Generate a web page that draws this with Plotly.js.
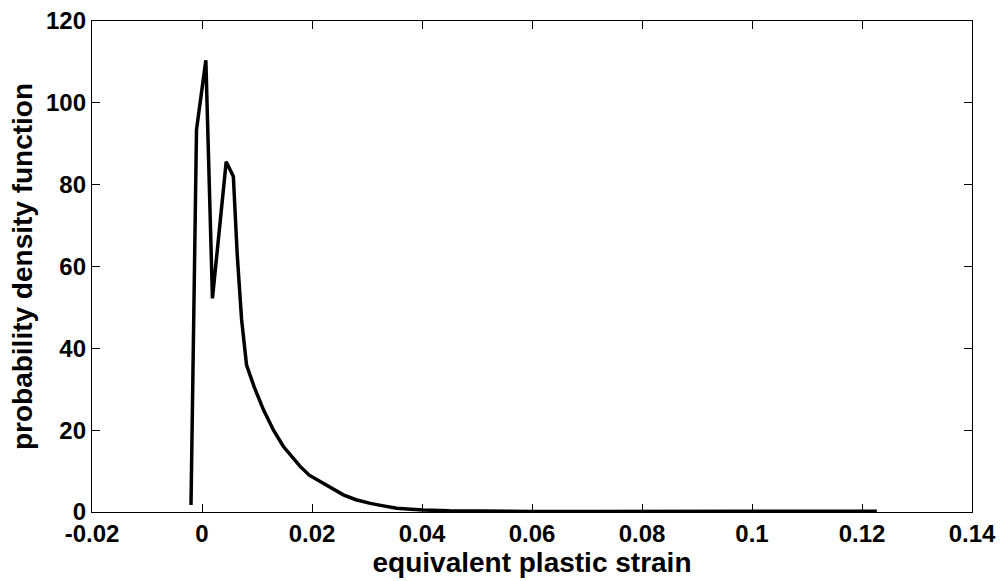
<!DOCTYPE html>
<html>
<head>
<meta charset="utf-8">
<script src="https://cdn.plot.ly/plotly-3.0.1.min.js"></script>
<style>html,body{margin:0;padding:0;background:#fff;}#chart{width:1006px;height:581px;}</style>
</head>
<body>
<div id="chart"></div>
<script>
var strain = [-0.0020, -0.0010, 0.0007, 0.0019, 0.0044, 0.0057, 0.0064, 0.0072, 0.0081, 0.0095, 0.0112, 0.0130, 0.0148, 0.0165, 0.0178, 0.0195, 0.0215, 0.0235, 0.0257, 0.0280, 0.0306, 0.0330, 0.0354, 0.0380, 0.0402, 0.0450, 0.0500, 0.0600, 0.0700, 0.0800, 0.0900, 0.1000, 0.1050, 0.1100, 0.1150, 0.1200, 0.1227];
var pdf    = [1.7, 93.4, 110.4, 52.2, 85.6, 82.0, 63.0, 47.0, 35.9, 30.5, 24.9, 20.0, 16.0, 13.2, 11.2, 9.0, 7.4, 5.8, 4.2, 3.0, 2.1, 1.5, 0.9, 0.7, 0.5, 0.3, 0.2, 0.15, 0.12, 0.1, 0.1, 0.1, 0.05, 0.05, 0.2, 0.2, 0.2];
var xTickVals = [-0.02, 0, 0.02, 0.04, 0.06, 0.08, 0.1, 0.12, 0.14];
var xTickText = ['-0.02', '0', '0.02', '0.04', '0.06', '0.08', '0.1', '0.12', '0.14'];
var yTickVals = [0, 20, 40, 60, 80, 100, 120];
var yTickText = ['0', '20', '40', '60', '80', '100', '120'];

var fam = 'Arial, "Liberation Sans", sans-serif';
var tickFnt = {family: fam, size: 24, color: '#000'};
var trace = {x: strain, y: pdf, type: 'scatter', mode: 'lines', line: {color: '#000', width: 3.5}, hoverinfo: 'skip'};
var axisCommon = {showgrid: false, zeroline: false, showline: true, linecolor: '#000', linewidth: 1.2, mirror: 'ticks', ticks: 'inside', ticklen: 8, tickcolor: '#000', tickwidth: 1, tickfont: tickFnt, tickmode: 'array'};
var layout = {
  width: 1006, height: 581,
  margin: {l: 92, r: 34, t: 21, b: 69},
  paper_bgcolor: '#fff', plot_bgcolor: '#fff',
  showlegend: false,
  xaxis: Object.assign({}, axisCommon, {range: [-0.02, 0.14], tickvals: xTickVals, ticktext: xTickText, title: {text: '<b>equivalent plastic strain</b>', font: {family: fam, size: 28, color: '#000'}, standoff: 0}}),
  yaxis: Object.assign({}, axisCommon, {range: [0, 120], tickvals: yTickVals, ticktext: yTickText, title: {text: '<b>probability density function</b>', font: {family: fam, size: 28, color: '#000'}, standoff: 5}})
};
Plotly.newPlot('chart', [trace], layout, {displayModeBar: false, staticPlot: true}).then(function(){
  document.querySelectorAll('.xtick text, .ytick text').forEach(function(t){ t.style.fontWeight = 'bold'; });
});
</script>
</body>
</html>
